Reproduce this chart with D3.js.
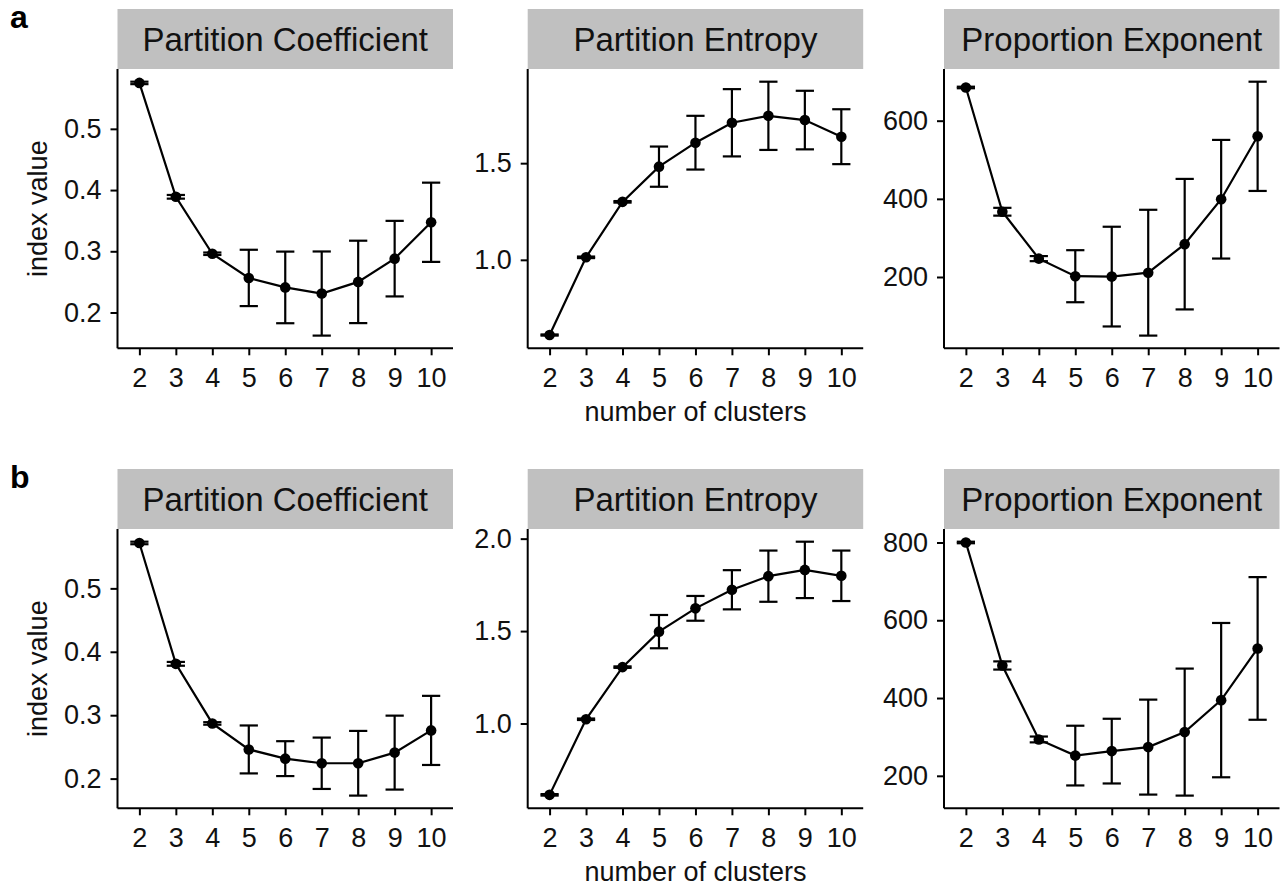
<html>
<head>
	<title>Cluster validity indices</title>
	<script src="https://d3js.org/d3.v7.min.js"></script>
</head>
<body>
	<style> *{
		margin: 0px;
		padding: 0px;
	}
	body { background: #fff; }
	text { font-family: "Liberation Sans", Arial, sans-serif; }
	</style>

	<svg id="SVGcanvas" xmlns="http://www.w3.org/2000/svg" width="1282" height="890">
	</svg>

	<script>
	// number of clusters (x axis)
	var clusters = [2, 3, 4, 5, 6, 7, 8, 9, 10];
	var panelTitles = ["Partition Coefficient", "Partition Entropy", "Proportion Exponent"];
	var rowLetters = ["a", "b"];

	// row a : mean and sd of each index
	var pcMeanA = [0.575, 0.389, 0.296, 0.2565, 0.241, 0.231, 0.250, 0.288, 0.3474];
	var pcSdA   = [0.002, 0.003, 0.002, 0.046, 0.0585, 0.0687, 0.0673, 0.0617, 0.0647];
	var peMeanA = [0.611, 1.013, 1.300, 1.482, 1.606, 1.709, 1.745, 1.723, 1.637];
	var peSdA   = [0.003, 0.004, 0.004, 0.104, 0.139, 0.174, 0.1765, 0.1515, 0.142];
	var pxMeanA = [685, 367, 247, 202, 201, 211, 284, 399, 560];
	var pxSdA   = [2, 10, 6.5, 66.6, 127.6, 161, 167, 151.8, 139.8];

	// row b
	var pcMeanB = [0.5716, 0.381, 0.287, 0.246, 0.2315, 0.2242, 0.2242, 0.241, 0.276];
	var pcSdB   = [0.002, 0.003, 0.002, 0.0378, 0.0275, 0.0405, 0.051, 0.0583, 0.0545];
	var peMeanB = [0.614, 1.023, 1.305, 1.497, 1.623, 1.7235, 1.797, 1.831, 1.799];
	var peSdB   = [0.004, 0.004, 0.004, 0.09, 0.067, 0.106, 0.1385, 0.1525, 0.1365];
	var pxMeanB = [800, 483.7, 293.5, 252, 263.5, 273.8, 312.4, 394.6, 527.5];
	var pxSdB   = [2, 10.5, 7.5, 76.8, 83.2, 122.1, 163.3, 198.4, 183.4];

	// y tick values for each panel
	var ticksA = [[0.2, 0.3, 0.4, 0.5], [1.0, 1.5], [200, 400, 600]];
	var ticksB = [[0.2, 0.3, 0.4, 0.5], [1.0, 1.5, 2.0], [200, 400, 600, 800]];

	var rows = [
		{ letter: rowLetters[0], means: [pcMeanA, peMeanA, pxMeanA], sds: [pcSdA, peSdA, pxSdA], ticks: ticksA },
		{ letter: rowLetters[1], means: [pcMeanB, peMeanB, pxMeanB], sds: [pcSdB, peSdB, pxSdB], ticks: ticksB }
	];
	var tickFormats = [d3.format(".1f"), d3.format(".1f"), d3.format("d")];

	// layout
	var panelLeft = [117.5, 527.7, 944], panelWidth = 335.5;
	var rowTop = [69, 529], plotHeight = 279.3, stripHeight = 60;
	var svg = d3.select("#SVGcanvas");

	rows.forEach(function (row, r) {
		var top = rowTop[r], bottom = top + plotHeight;

		svg.append("text")
			.attr("x", 10).attr("y", top - 41)
			.attr("font-size", 32).attr("font-weight", "bold")
			.text(row.letter);

		for (var p = 0; p < 3; p++) {
			var left = panelLeft[p], right = left + panelWidth;
			var mean = row.means[p], sd = row.sds[p];
			var data = clusters.map(function (k, i) { return { k: k, m: mean[i], lo: mean[i] - sd[i], hi: mean[i] + sd[i] }; });

			var x = d3.scaleLinear().domain([1.4, 10.6]).range([left, right]);
			var lo = d3.min(data, function (d) { return d.lo; });
			var hi = d3.max(data, function (d) { return d.hi; });
			var pad = (hi - lo) * 0.05;
			var y = d3.scaleLinear().domain([lo - pad, hi + pad]).range([bottom, top]);

			var g = svg.append("g");

			// strip
			g.append("rect")
				.attr("x", left).attr("y", top - stripHeight)
				.attr("width", panelWidth).attr("height", stripHeight)
				.attr("fill", "#c0c0c0");
			g.append("text")
				.attr("x", (left + right) / 2).attr("y", top - stripHeight / 2 + 12)
				.attr("text-anchor", "middle").attr("font-size", 33).attr("fill", "#111")
				.text(panelTitles[p]);

			// axes
			var xAxis = g.append("g").attr("transform", "translate(0," + bottom + ")")
				.call(d3.axisBottom(x).tickValues(clusters).tickSize(7).tickPadding(13).tickSizeOuter(0));
			var yAxis = g.append("g").attr("transform", "translate(" + left + ",0)")
				.call(d3.axisLeft(y).tickValues(row.ticks[p]).tickFormat(tickFormats[p]).tickSize(7).tickPadding(9).tickSizeOuter(0));
			[xAxis, yAxis].forEach(function (a) {
				a.select(".domain").attr("stroke", "#000").attr("stroke-width", 2);
				a.selectAll(".tick line").attr("stroke", "#000").attr("stroke-width", 2);
				a.selectAll(".tick text").attr("font-size", 27).attr("fill", "#111")
					.attr("font-family", "Liberation Sans, Arial, sans-serif");
			});
			xAxis.selectAll(".tick text").attr("y", 7 + 13).attr("dy", "0.71em");
			xAxis.select(".domain").attr("d", "M" + left + ",0H" + right);
			yAxis.select(".domain").attr("d", "M0," + top + "V" + bottom);

			// error bars
			var capHalf = (x(2.5) - x(2)) / 2;
			var eb = g.selectAll(".eb").data(data).enter().append("g");
			eb.append("line")
				.attr("x1", function (d) { return x(d.k); }).attr("x2", function (d) { return x(d.k); })
				.attr("y1", function (d) { return y(d.lo); }).attr("y2", function (d) { return y(d.hi); })
				.attr("stroke", "#000").attr("stroke-width", 2.2);
			[function (d) { return y(d.lo); }, function (d) { return y(d.hi); }].forEach(function (fy) {
				eb.append("line")
					.attr("x1", function (d) { return x(d.k) - capHalf; }).attr("x2", function (d) { return x(d.k) + capHalf; })
					.attr("y1", fy).attr("y2", fy)
					.attr("stroke", "#000").attr("stroke-width", 2.2);
			});

			// line and points
			g.append("path").datum(data)
				.attr("fill", "none").attr("stroke", "#000").attr("stroke-width", 2.2)
				.attr("d", d3.line().x(function (d) { return x(d.k); }).y(function (d) { return y(d.m); }));
			g.selectAll(".pt").data(data).enter().append("circle")
				.attr("cx", function (d) { return x(d.k); }).attr("cy", function (d) { return y(d.m); })
				.attr("r", 5.3).attr("fill", "#000");
		}

		// axis titles
		svg.append("text")
			.attr("transform", "translate(47," + (top + plotHeight / 2) + ") rotate(-90)")
			.attr("text-anchor", "middle").attr("font-size", 27).attr("fill", "#111")
			.text("index value");
		svg.append("text")
			.attr("x", panelLeft[1] + panelWidth / 2).attr("y", bottom + 73)
			.attr("text-anchor", "middle").attr("font-size", 27).attr("fill", "#111")
			.text("number of clusters");
	});
	</script>

</body>
</html>
